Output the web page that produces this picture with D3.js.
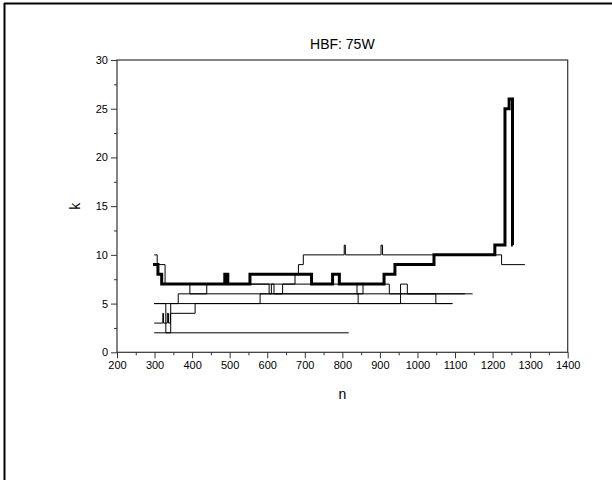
<!DOCTYPE html>
<html><head><meta charset="utf-8">
<script src="https://cdn.jsdelivr.net/npm/d3@7"></script>
<style>body{margin:0;background:#fff}svg{display:block}text{font-family:"Liberation Sans",Arial,sans-serif;fill:#000}</style>
</head><body>
<script>
const title = "HBF: 75W";
const xLabel = "n", yLabel = "k";
const xTicks = [200,300,400,500,600,700,800,900,1000,1100,1200,1300,1400];
const yTicks = [0,5,10,15,20,25,30];
// step series: [n, k] pairs, value holds until next n
const seriesMain = [[296,9],[309,8],[319,7],[487,8],[495,7],[554,8],[718,7],[774,8],[792,7],[911,8],[940,9],[1044,10],[1206,11],[1233,25],[1244,26],[1253,11],[1254,11]];
const seriesA = [[299,10],[307,9],[328,7],[394,6],[439,7],[605,6],[611,7],[618,6],[641,7],[674,8],[683,9],[696,10],[805,11],[808,10],[903,11],[907,10],[1224,9],[1286,9]];
const seriesB = [[299,5],[363,6],[1147,6]];
const seriesC = [[299,3],[322,4],[324,3],[334,4],[337,3],[342,4],[408,5],[581,6],[842,5],[955,6],[1049,5],[1093,5]];
const seriesD = [[299,5],[330,2],[343,5],[1093,5]];
const seriesF = [[319,7],[839,6],[855,7],[925,6],[955,7],[973,6],[1126,6]];
const seriesE = [[299,2],[817,2]];
const thinSeries = [seriesA, seriesB, seriesC, seriesD, seriesF, seriesE];

const W = 612, H = 480;
const svg = d3.select("body").append("svg").attr("width", W).attr("height", H);
const x = d3.scaleLinear().domain([200,1400]).range([117,567.7]);
const y = d3.scaleLinear().domain([0,30]).range([352.3,60]);

// outer frame (partially visible)
svg.append("line").attr("x1",4).attr("y1",3.5).attr("x2",W).attr("y2",3.5).attr("stroke","#000").attr("stroke-width",2);
svg.append("line").attr("x1",4.5).attr("y1",3).attr("x2",4.5).attr("y2",H).attr("stroke","#000").attr("stroke-width",2);

const line = d3.line().x(d=>x(d[0])).y(d=>y(d[1])).curve(d3.curveStepAfter);
const g = svg.append("g");
thinSeries.forEach(s => g.append("path").attr("d", line(s)).attr("fill","none").attr("stroke","#000").attr("stroke-width",1));
g.append("path").attr("d", line(seriesMain)).attr("fill","none").attr("stroke","#000").attr("stroke-width",3);

// axes
const xMinor = d3.range(250,1400,100);
const yMinor = d3.range(2.5,30,5);
svg.append("g").attr("transform",`translate(0,${y(0)})`)
  .call(d3.axisBottom(x).tickValues(xTicks).tickSize(6).tickPadding(3).tickFormat(d3.format("d")));
svg.append("g").attr("transform",`translate(0,${y(0)})`).call(d3.axisBottom(x).tickValues(xMinor).tickSize(3).tickFormat(""));
svg.append("g").attr("transform",`translate(${x(200)},0)`)
  .call(d3.axisLeft(y).tickValues(yTicks).tickSize(6).tickPadding(3));
svg.append("g").attr("transform",`translate(${x(200)},0)`).call(d3.axisLeft(y).tickValues(yMinor).tickSize(3).tickFormat(""));
svg.selectAll(".domain").remove();
svg.selectAll(".tick line").attr("stroke","#333");
svg.selectAll(".tick text").attr("font-size",11).attr("font-family","Liberation Sans, Arial, sans-serif").attr("fill","#000");
// box
svg.append("rect").attr("x",x(200)).attr("y",y(30)).attr("width",x(1400)-x(200)).attr("height",y(0)-y(30))
  .attr("fill","none").attr("stroke","#333").attr("stroke-width",1.2);

svg.append("text").attr("x",(x(200)+x(1400))/2).attr("y",49).attr("text-anchor","middle").attr("font-size",14).text(title);
svg.append("text").attr("x",(x(200)+x(1400))/2).attr("y",399).attr("text-anchor","middle").attr("font-size",14).text(xLabel);
svg.append("text").attr("transform",`translate(80,${(y(0)+y(30))/2}) rotate(-90)`).attr("text-anchor","middle").attr("font-size",14).text(yLabel);
</script>
</body></html>
